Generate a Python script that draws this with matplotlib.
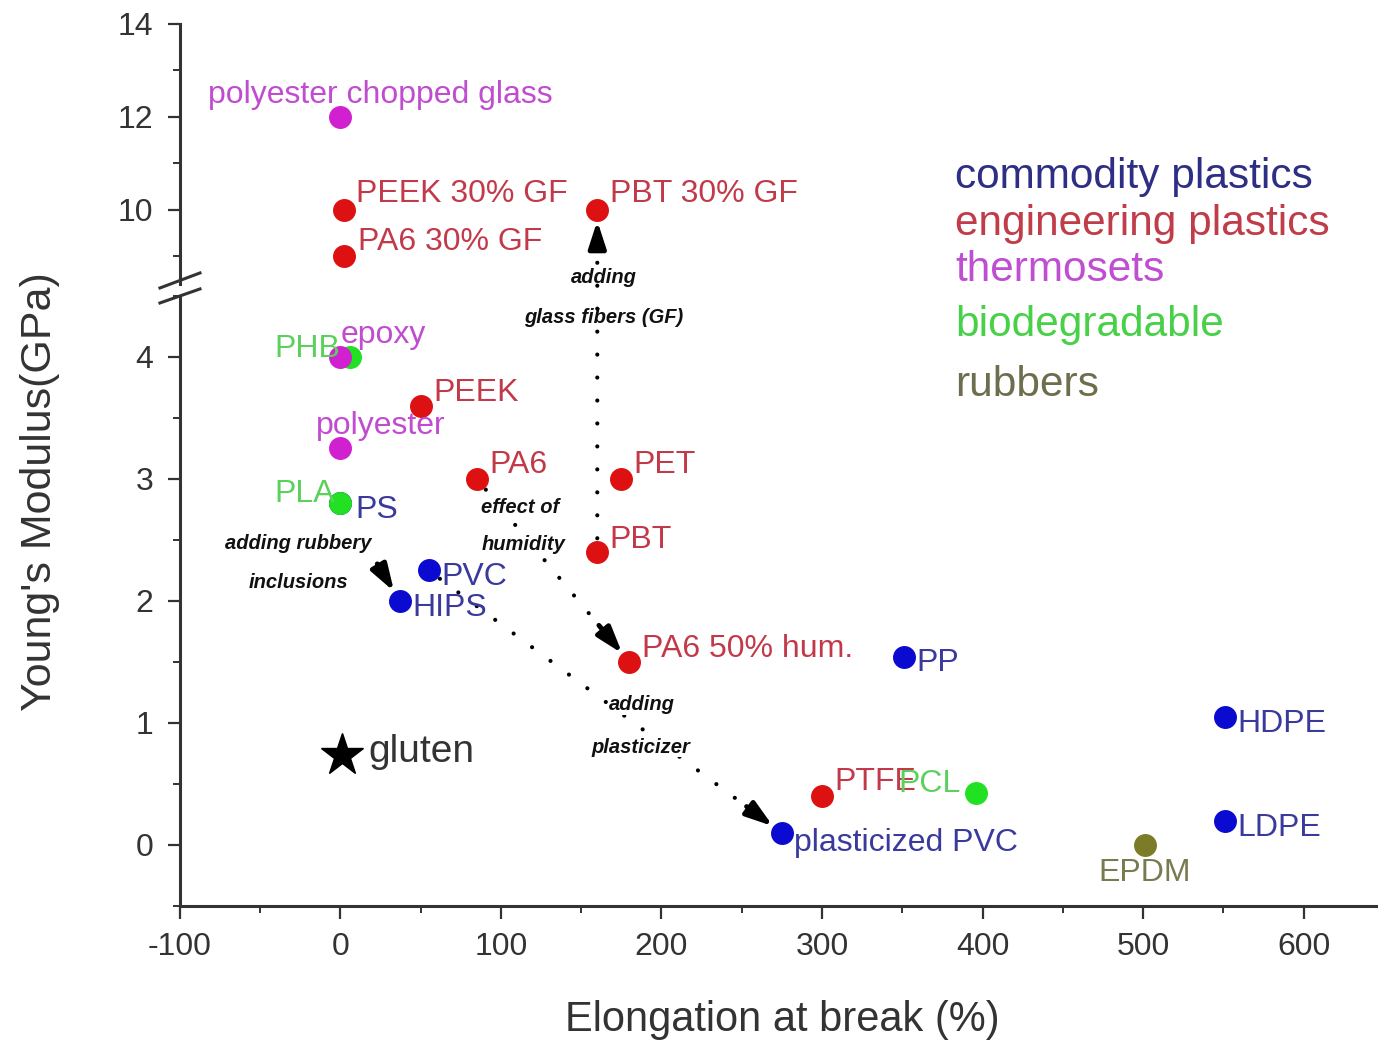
import matplotlib
matplotlib.use("Agg")
import matplotlib.pyplot as plt
from matplotlib.ticker import MultipleLocator
from matplotlib.patches import ConnectionPatch

plt.rcParams['font.family'] = ['Liberation Sans', 'DejaVu Sans']
plt.rcParams['axes.unicode_minus'] = False

# ---------------- data ----------------
commodity_names = ['PS', 'PVC', 'HIPS', 'PP', 'HDPE', 'LDPE', 'plasticized PVC']
commodity_x = [0, 55, 37, 351, 551, 551, 275]
commodity_y = [2.8, 2.25, 2.0, 1.54, 1.05, 0.2, 0.1]

engineering_names = ['PEEK 30% GF', 'PA6 30% GF', 'PBT 30% GF', 'PEEK', 'PA6', 'PET',
                     'PBT', 'PA6 50% hum.', 'PTFE']
engineering_x = [2, 2, 160, 50, 85, 175, 160, 180, 300]
engineering_y = [10, 9, 10, 3.6, 3.0, 3.0, 2.4, 1.5, 0.4]

thermoset_names = ['polyester chopped glass', 'epoxy', 'polyester']
thermoset_x = [0, 0, 0]
thermoset_y = [12, 4.0, 3.25]

bio_names = ['PHB', 'PLA', 'PCL']
bio_x = [6, 0, 396]
bio_y = [4.0, 2.8, 0.43]

rubber_names = ['EPDM']
rubber_x = [501]
rubber_y = [0.0]

gluten_x = [1]
gluten_y = [0.74]

legend_labels = ['commodity plastics', 'engineering plastics', 'thermosets',
                 'biodegradable', 'rubbers']

x_ticks = [-100, 0, 100, 200, 300, 400, 500, 600]
y_ticks_low = [0, 1, 2, 3, 4]
y_ticks_up = [10, 12, 14]

# ---------------- styles ----------------
marker_colors = ['#0a0ad0', '#dd1111', '#d020d0', '#22e022', '#7c7c28']
label_colors = ['#3a3a9c', '#c23a4a', '#c04cd0', '#5cd05c', '#7a7a50']
legend_colors = ['#2e2e84', '#c03c48', '#c04ed2', '#48d048', '#6e6e4e']

offsets = {
    'polyester chopped glass': (29, 16, 'center'),
    'PEEK 30% GF': (9, 11, 'left'),
    'PA6 30% GF': (10, 10, 'left'),
    'PBT 30% GF': (9, 11, 'left'),
    'epoxy': (0, 16, 'left'),
    'PHB': (-7, 6, 'right'),
    'PEEK': (9, 9, 'left'),
    'polyester': (29, 16, 'center'),
    'PA6': (9, 10, 'left'),
    'PET': (9, 10, 'left'),
    'PLA': (-4, 7, 'right'),
    'PS': (11, -5, 'left'),
    'PBT': (9, 9, 'left'),
    'PVC': (9, -5, 'left'),
    'HIPS': (9, -5, 'left'),
    'PA6 50% hum.': (9, 9, 'left'),
    'PP': (9, -4, 'left'),
    'HDPE': (9, -5, 'left'),
    'LDPE': (9, -5, 'left'),
    'PTFE': (9, 10, 'left'),
    'PCL': (-11, 6, 'right'),
    'plasticized PVC': (9, -7, 'left'),
    'EPDM': (0, -20, 'center'),
}

fig = plt.figure(figsize=(13.78, 10.41), dpi=100)
ax_up = fig.add_axes([0.1306, 0.7272, 0.8694, 0.2498])
ax_low = fig.add_axes([0.1306, 0.1297, 0.8694, 0.586])

XLIM = (-100, 646.4)
for ax in (ax_up, ax_low):
    ax.set_xlim(*XLIM)
    ax.spines['top'].set_visible(False)
    ax.spines['right'].set_visible(False)
    for s in ('left', 'bottom'):
        ax.spines[s].set_linewidth(2.2)
        ax.spines[s].set_color('#333333')
    ax.tick_params(which='major', direction='out', length=9, width=1.6,
                   color='#333333', labelsize=23, labelcolor='#333333', pad=10)
    ax.tick_params(which='minor', direction='out', length=5, width=1.4, color='#333333')

ax_up.set_ylim(8.4, 14)
ax_low.set_ylim(-0.5, 4.5)
ax_up.spines['bottom'].set_visible(False)
ax_up.tick_params(axis='x', which='both', bottom=False, labelbottom=False)
ax_up.set_yticks(y_ticks_up)
ax_up.yaxis.set_minor_locator(MultipleLocator(1))
ax_low.set_yticks(y_ticks_low)
ax_low.yaxis.set_minor_locator(MultipleLocator(0.5))
ax_low.set_xticks(x_ticks)
ax_low.xaxis.set_minor_locator(MultipleLocator(50))

groups = [
    (commodity_names, commodity_x, commodity_y),
    (engineering_names, engineering_x, engineering_y),
    (thermoset_names, thermoset_x, thermoset_y),
    (bio_names, bio_x, bio_y),
    (rubber_names, rubber_x, rubber_y),
]

zorders = {0: 5, 1: 5, 2: 6, 3: 4, 4: 5}
for gi in [0, 1, 2, 3, 4]:
    names, xs, ys = groups[gi]
    for ax in (ax_up, ax_low):
        if gi == 3:
            # PLA over PS, PHB under epoxy
            for n, x, y in zip(names, xs, ys):
                zz = 7 if n == 'PLA' else (4 if n == 'PHB' else 5)
                ax.plot([x], [y], 'o', ms=15.5, color=marker_colors[gi], zorder=zz,
                        mec=marker_colors[gi])
        else:
            ax.plot(xs, ys, 'o', ms=15.5, color=marker_colors[gi], zorder=zorders[gi],
                    mec=marker_colors[gi], linestyle='none')
    for n, x, y in zip(names, xs, ys):
        ax = ax_up if y > 6 else ax_low
        dx, dy, ha = offsets[n]
        ax.annotate(n, xy=(x, y), xytext=(dx, dy), textcoords='offset points',
                    ha=ha, va='center', fontsize=23, color=label_colors[gi], zorder=8)

# gluten
ax_low.plot(gluten_x, gluten_y, '*', ms=32, color='black', zorder=6)
ax_low.annotate('gluten', xy=(gluten_x[0], gluten_y[0]), xytext=(19, 2),
                textcoords='offset points', ha='left', va='center',
                fontsize=28, color='#333333')

# ---------------- arrows ----------------
dot_kw = dict(color='black', lw=3, linestyle=(0, (0.01, 5.5)))
head_style = '-|>,head_length=0.8,head_width=0.26'


def pt(names, xs, ys, n):
    i = names.index(n)
    return xs[i], ys[i]


# glass fibers: PBT -> PBT 30% GF (crosses the axis break)
pbt = pt(engineering_names, engineering_x, engineering_y, 'PBT')
pbt_gf = pt(engineering_names, engineering_x, engineering_y, 'PBT 30% GF')
cp = ConnectionPatch(xyA=pbt, coordsA='data', axesA=ax_low,
                     xyB=pbt_gf, coordsB='data', axesB=ax_up,
                     arrowstyle='-', shrinkA=10, shrinkB=22, **dot_kw)
cp.set_capstyle('round')
fig.add_artist(cp)
ax_up.annotate('', xy=pbt_gf, xytext=(pbt_gf[0], pbt_gf[1] - 0.75),
               arrowprops=dict(arrowstyle=head_style, color='black', lw=3.5,
                               mutation_scale=20, shrinkA=0, shrinkB=8), zorder=4)


def dotted_arrow(ax, start, end, frac):
    ax.annotate('', xy=end, xytext=start,
                arrowprops=dict(arrowstyle='-', shrinkA=10, shrinkB=20,
                                capstyle='round', **dot_kw), zorder=3)
    tail = (end[0] + frac * (start[0] - end[0]), end[1] + frac * (start[1] - end[1]))
    ax.annotate('', xy=end, xytext=tail,
                arrowprops=dict(arrowstyle=head_style, color='black', lw=3.5,
                                mutation_scale=20, shrinkA=0, shrinkB=8), zorder=4)


# humidity: PA6 -> PA6 50% hum.
pa6 = pt(engineering_names, engineering_x, engineering_y, 'PA6')
pa6h = pt(engineering_names, engineering_x, engineering_y, 'PA6 50% hum.')
dotted_arrow(ax_low, pa6, pa6h, 0.2)

# plasticizer: PVC -> plasticized PVC
pvc = pt(commodity_names, commodity_x, commodity_y, 'PVC')
ppvc = pt(commodity_names, commodity_x, commodity_y, 'plasticized PVC')
dotted_arrow(ax_low, pvc, ppvc, 0.1)

# rubbery inclusions: short arrow PS -> HIPS
ps = pt(commodity_names, commodity_x, commodity_y, 'PS')
hips = pt(commodity_names, commodity_x, commodity_y, 'HIPS')
tail = (hips[0] + 0.38 * (ps[0] - hips[0]), hips[1] + 0.38 * (ps[1] - hips[1]))
ax_low.annotate('', xy=hips, xytext=tail,
                arrowprops=dict(arrowstyle=head_style, color='black', lw=3.5,
                                mutation_scale=20, shrinkA=0, shrinkB=8), zorder=4)

# annotation texts
ann_kw = dict(fontsize=14.5, fontweight='bold', fontstyle='italic', color='#111111',
              ha='center', va='center', zorder=5,
              bbox=dict(facecolor='white', edgecolor='none', pad=0.5))
ax_up.text(164, 8.54, 'adding', **ann_kw)
ax_low.text(164, 4.32, 'glass fibers (GF)', **ann_kw)
ax_low.text(112, 2.77, 'effect of', **ann_kw)
ax_low.text(114, 2.46, 'humidity', **ann_kw)
ax_low.text(-26, 2.47, 'adding rubbery', **ann_kw)
ax_low.text(-26, 2.15, 'inclusions', **ann_kw)
ax_low.text(188, 1.15, 'adding', **ann_kw)
ax_low.text(187, 0.80, 'plasticizer', **ann_kw)

# legend as coloured text
leg_y_px = [177, 224, 270, 325, 385]
for lab, col, ypx in zip(legend_labels, legend_colors, leg_y_px):
    fig.text(955 / 1378, 1 - ypx / 1041, lab, color=col, fontsize=30.5,
             ha='left', va='center')

# axis break marks
for y0, y1 in [((906 - 288) / 610, (906 - 273) / 610), ((906 - 303) / 610, (906 - 289) / 610)]:
    ax_low.plot([-0.0167, 0.0167], [y0, y1], transform=ax_low.transAxes,
                color='#333333', lw=2.2, clip_on=False)

# axis labels
fig.text(40 / 1378, 1 - 492 / 1041, "Young's Modulus(GPa)", rotation=90,
         fontsize=31, color='#333333', ha='center', va='center')
fig.text(782 / 1378, 1 - 1020 / 1041, 'Elongation at break (%)',
         fontsize=30, color='#333333', ha='center', va='center')

fig.savefig('out.png', dpi=100, facecolor='white')
